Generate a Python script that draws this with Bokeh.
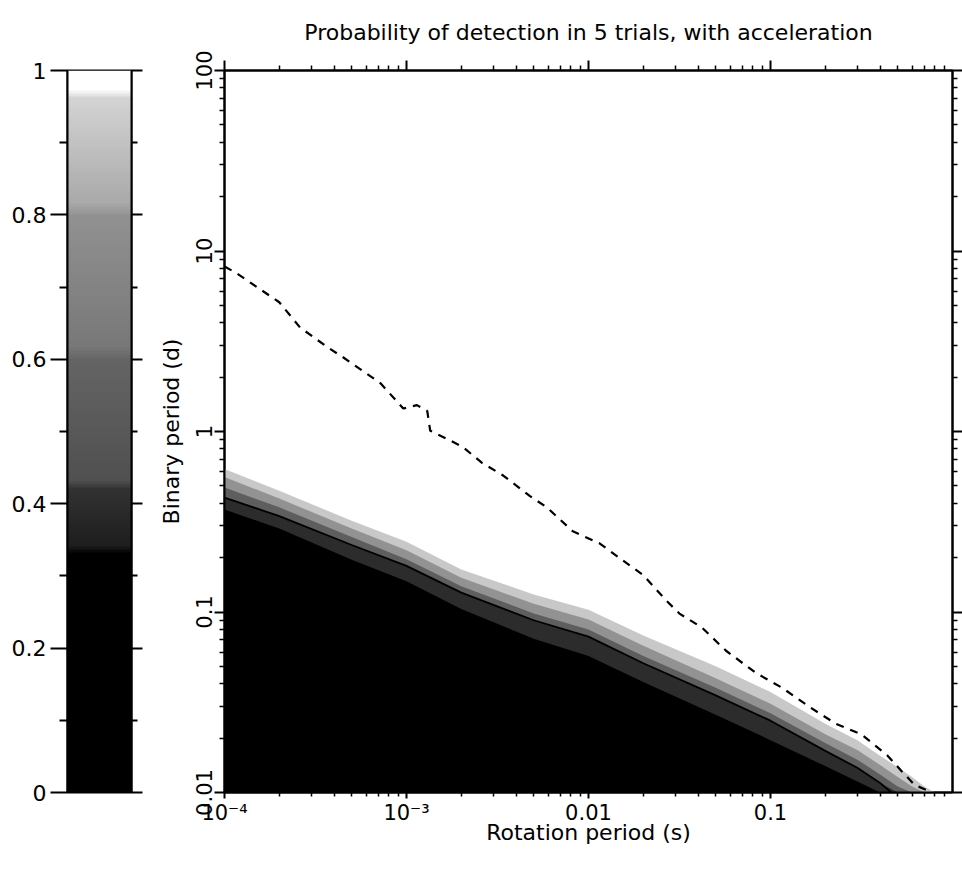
import numpy as np
from bokeh.plotting import figure
from bokeh.models import FixedTicker, LogAxis, LinearAxis, LinearColorMapper, Range1d
from bokeh.layouts import row
from bokeh.embed import file_html
from bokeh.resources import INLINE

FONT = "DejaVu Sans"

# ---------------- data ----------------
title_text = "Probability of detection in 5 trials, with acceleration"
x_label = "Rotation period (s)"
y_label = "Binary period (d)"

# colour-bar ticks
cb_ticks = [0.0, 0.2, 0.4, 0.6, 0.8, 1.0]
cb_minor = [0.1, 0.3, 0.5, 0.7, 0.9]
cb_labels = ["0", "0.2", "0.4", "0.6", "0.8", "1"]

# axis ticks
x_ticks = [1e-4, 1e-3, 1e-2, 1e-1]
x_labels = ["10\u207b\u2074", "10\u207b\u00b3", "0.01", "0.1"]
y_ticks = [0.01, 0.1, 1.0, 10.0, 100.0]
y_labels = ["0.01", "0.1", "1", "10", "100"]

# probability map, described by the binary period (d) of its level boundaries
rot_period = [1e-4, 2e-4, 5e-4, 1e-3, 2e-3, 5e-3, 0.01, 0.02, 0.05, 0.1, 0.2, 0.3, 0.4, 0.5, 0.6, 0.7, 0.8, 1.0]
edge_p97 = [0.62, 0.47, 0.32, 0.245, 0.172, 0.125, 0.103, 0.074, 0.050, 0.036, 0.024, 0.0195, 0.0160, 0.0138, 0.0122, 0.0108, 0.0100, 0.0100]
edge_p85 = [0.56, 0.425, 0.29, 0.220, 0.155, 0.111, 0.091, 0.065, 0.043, 0.031, 0.0210, 0.0172, 0.0142, 0.0122, 0.0108, 0.0100, 0.0100, 0.0100]
edge_p65 = [0.49, 0.38, 0.26, 0.196, 0.139, 0.098, 0.080, 0.057, 0.038, 0.0275, 0.0188, 0.0152, 0.0126, 0.0108, 0.0100, 0.0100, 0.0100, 0.0100]
edge_p50 = [0.43, 0.34, 0.235, 0.180, 0.128, 0.090, 0.073, 0.052, 0.0345, 0.025, 0.0170, 0.0137, 0.0113, 0.0100, 0.0100, 0.0100, 0.0100, 0.0100]
edge_p35 = [0.37, 0.29, 0.195, 0.148, 0.104, 0.071, 0.057, 0.041, 0.027, 0.0195, 0.0140, 0.0115, 0.0100, 0.0100, 0.0100, 0.0100, 0.0100, 0.0100]

# solid contour
solid_x = [1e-4, 2e-4, 5e-4, 1e-3, 2e-3, 5e-3, 0.01, 0.02, 0.05, 0.1, 0.2, 0.3, 0.4, 0.46]
solid_y = [0.43, 0.34, 0.235, 0.180, 0.128, 0.090, 0.073, 0.052, 0.0345, 0.025, 0.0170, 0.0137, 0.0113, 0.0100]

# dashed contour
dash_x = [1.0e-4, 1.15e-4, 2.0e-4, 2.6e-4, 3.7e-4, 4.5e-4, 6.5e-4, 7.2e-4, 9.6e-4, 1.14e-3, 1.3e-3, 1.35e-3,
          1.67e-3, 2.04e-3, 2.6e-3, 3.4e-3, 4.75e-3, 5.9e-3, 8.2e-3, 0.0115, 0.017, 0.02, 0.0267, 0.0316,
          0.042, 0.048, 0.057, 0.083, 0.116, 0.162, 0.229, 0.316, 0.44, 0.53, 0.62, 0.74]
dash_y = [8.2, 7.6, 5.2, 3.77, 2.92, 2.57, 1.99, 1.85, 1.34, 1.40, 1.30, 1.01,
          0.91, 0.82, 0.67, 0.57, 0.44, 0.38, 0.28, 0.24, 0.18, 0.16, 0.116, 0.098,
          0.082, 0.072, 0.061, 0.046, 0.038, 0.030, 0.024, 0.021, 0.016, 0.013, 0.011, 0.0102]

# grey rendering of probability (colour-bar shading)
shade_p = [0.0, 0.33, 0.34, 0.42, 0.43, 0.60, 0.62, 0.80, 0.82, 0.965, 0.975, 1.0]
shade_g = [0, 0, 30, 50, 80, 100, 120, 145, 170, 212, 255, 255]

band_colors = ["#c8c8c8", "#929292", "#5e5e5e", "#2c2c2c", "#000000"]

# ---------------- colour bar ----------------
pal_levels = np.linspace(0, 1, 256)
pal_gray = np.interp(pal_levels, shade_p, shade_g).round().astype(int)
palette = ["#%02x%02x%02x" % (g, g, g) for g in pal_gray]
mapper = LinearColorMapper(palette=palette, low=0, high=1)

cb = figure(width=150, height=878, x_range=Range1d(0, 1), y_range=Range1d(0, 1),
            output_backend="svg", toolbar_location=None, x_axis_location=None,
            min_border_left=67, min_border_right=19, min_border_top=70, min_border_bottom=85)
ramp = np.linspace(0, 1, 723).reshape(-1, 1)
cb.image(image=[ramp], x=0, y=0, dw=1, dh=1, color_mapper=mapper)
cb.grid.visible = False
cb.outline_line_color = "black"
cb.outline_line_width = 2

cb_ticker = FixedTicker(ticks=cb_ticks, minor_ticks=cb_minor)
ya = cb.yaxis[0]
ya.ticker = cb_ticker
ya.major_label_overrides = dict(zip(cb_ticks, cb_labels))
ya.major_tick_in = 0
ya.major_tick_out = 17
ya.minor_tick_in = 0
ya.minor_tick_out = 8
ya.major_label_standoff = 4
ya.major_label_text_font = FONT
ya.major_label_text_font_size = "22px"
ya.major_label_text_color = "black"
ya.axis_line_width = 2
ya.major_tick_line_width = 2
ya.minor_tick_line_width = 2

ra = LinearAxis(ticker=cb_ticker, major_label_overrides={t: "" for t in cb_ticks},
                major_label_text_font_size="1px", major_label_standoff=0,
                major_tick_in=0, major_tick_out=11, minor_tick_in=0, minor_tick_out=6,
                axis_line_width=2, major_tick_line_width=2, minor_tick_line_width=2)
cb.add_layout(ra, "right")

# ---------------- main plot ----------------
p = figure(width=812, height=878, x_axis_type="log", y_axis_type="log",
           x_range=Range1d(1e-4, 1.0), y_range=Range1d(0.01, 100.0),
           output_backend="svg", toolbar_location=None,
           min_border_left=74, min_border_right=8, min_border_top=70, min_border_bottom=86)
p.grid.visible = False
p.outline_line_color = "black"
p.outline_line_width = 2

for edge, col in zip([edge_p97, edge_p85, edge_p65, edge_p50, edge_p35], band_colors):
    p.varea(x=rot_period, y1=0.01, y2=edge, fill_color=col)

p.line(solid_x, solid_y, line_color="black", line_width=1.8)
p.line(dash_x, dash_y, line_color="black", line_width=2.2, line_dash="8 7")

x_minor = [k * 10.0 ** e for e in range(-4, 0) for k in range(2, 10)]
y_minor = [k * 10.0 ** e for e in range(-2, 2) for k in range(2, 10)]
xt = FixedTicker(ticks=x_ticks, minor_ticks=x_minor)
yt = FixedTicker(ticks=y_ticks, minor_ticks=y_minor)


def style_axis(ax, major=10, minor=5):
    ax.major_tick_in = 0
    ax.major_tick_out = major
    ax.minor_tick_in = 0
    ax.minor_tick_out = minor
    ax.axis_line_width = 2
    ax.major_tick_line_width = 2
    ax.minor_tick_line_width = 1.5
    ax.major_label_text_font = FONT
    ax.major_label_text_color = "black"
    ax.axis_label_text_font = FONT
    ax.axis_label_text_font_style = "normal"
    ax.axis_label_text_font_size = "22px"
    ax.axis_label_text_color = "black"


xa = p.xaxis[0]
xa.ticker = xt
xa.major_label_overrides = dict(zip(x_ticks, x_labels))
xa.major_label_text_font_size = "21px"
xa.major_label_standoff = 2
xa.axis_label = x_label
xa.axis_label_standoff = -8
style_axis(xa, 6, 4)

ya2 = p.yaxis[0]
ya2.ticker = yt
ya2.major_label_overrides = dict(zip(y_ticks, y_labels))
ya2.major_label_text_font_size = "21px"
ya2.major_label_orientation = "vertical"
ya2.major_label_standoff = 3
ya2.axis_label = y_label
ya2.axis_label_standoff = 9
style_axis(ya2)

top = LogAxis(ticker=xt, major_label_overrides={t: "" for t in x_ticks},
              major_label_text_font_size="1px", major_label_standoff=0)
style_axis(top)
p.add_layout(top, "above")
right = LogAxis(ticker=yt, major_label_overrides={t: "" for t in y_ticks},
                major_label_text_font_size="1px", major_label_standoff=0)
style_axis(right)
p.add_layout(right, "right")

p.title.text = title_text
p.title.align = "center"
p.title.vertical_align = "top"
p.title.text_baseline = "middle"
p.title.text_font = FONT
p.title.text_font_size = "22px"
p.title.text_font_style = "normal"
p.title.text_color = "black"
p.title.standoff = 27

layout = row(cb, p)
open("out.html", "w").write(file_html(layout, INLINE))
